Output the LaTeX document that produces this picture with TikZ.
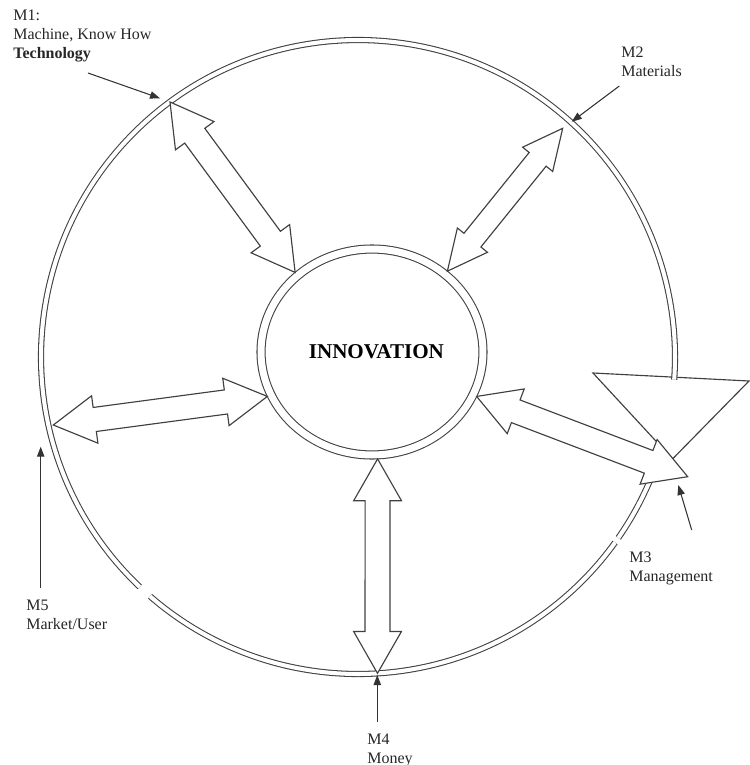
\documentclass[tikz,border=0pt]{standalone}
\usepackage{fontspec}
\setmainfont{Liberation Serif}
\usepackage{tikz}
\tikzset{
     ring/.style={draw=black!75,line width=0.6pt,double,double distance=2.3pt},
     blockarrow/.style={draw=black!75,line width=0.65pt,fill=white,line join=miter},
     pointer/.style={draw=black!80,line width=0.6pt,-{Triangle[length=5.7pt,width=4.2pt]}},
     tag/.style={anchor=north west,inner sep=0pt,align=left,text=black!85,font=\fontsize{9.1}{10.6}\selectfont}
     }
\usetikzlibrary{positioning,arrows.meta,calc}
\usetikzlibrary{shapes.geometric}
% double headed block arrow: tips #1 #2, head length #3, head half width #4, shaft half width #5
\newcommand{\blockarrow}[5]{%
  \coordinate (ha) at ($(#1)!#3!(#2)$);
  \coordinate (hb) at ($(#2)!#3!(#1)$);
  \draw[blockarrow] (#1)
    -- ($(ha)!#4!90:(#2)$) -- ($(ha)!#5!90:(#2)$)
    -- ($(hb)!#5!-90:(#1)$) -- ($(hb)!#4!-90:(#1)$)
    -- (#2)
    -- ($(hb)!#4!90:(#1)$) -- ($(hb)!#5!90:(#1)$)
    -- ($(ha)!#5!-90:(#2)$) -- ($(ha)!#4!-90:(#2)$)
    -- cycle;}

\begin{document}
\begin{tikzpicture}[x=0.02cm,y=-0.02cm]
            \useasboundingbox (0,0) rectangle (750,765);
            % Place coordinates
            \coordinate (ringc) at (358,357);
            \coordinate (techtip) at (170,102);
            \coordinate (mattip) at (562.7,128.3);
            \coordinate (mgmttip) at (687.7,476.7);
            \coordinate (moneytip) at (377.5,673.3);
            \coordinate (markettip) at (53.3,425);
            % Draw outer ring
            \draw[ring] (ringc) ++(35.8:317) arc[start angle=35.8,end angle=131,radius=317];
            \draw[ring] (ringc) ++(10:317) arc[start angle=10,end angle=34.8,radius=317];
            \draw[blockarrow] (593,373) -- (749,381) -- (672.5,459) -- cycle;
            \draw[ring] (ringc) ++(133.5:317) arc[start angle=133.5,end angle=364.1,radius=317];
            % Place nodes
            \node[ellipse,draw=black!75,line width=0.6pt,double,double distance=4pt,minimum width=4.44cm,minimum height=4.12cm,inner sep=0pt,outer sep=2.3pt,font=\fontsize{12}{14}\selectfont\bfseries] (innov) at (372,352) {\hspace*{5pt}INNOVATION};
            % Draw block arrows
            \blockarrow{innov.134}{techtip}{23.8pt}{13.6pt}{7.1pt}
            \blockarrow{innov.47}{mattip}{22.7pt}{11pt}{6.2pt}
            \blockarrow{innov.337}{mgmttip}{23.8pt}{13.6pt}{6.9pt}
            \blockarrow{innov.273}{moneytip}{23.8pt}{13.6pt}{7.1pt}
            \blockarrow{innov.203}{markettip}{23.8pt}{13.6pt}{6.9pt}
            % Place labels
            \node[tag] (tech) at (13,10) {M1:\\Machine, Know How\\\textbf{Technology}};
            \node[tag] (mat) at (621,47) {M2\\Materials};
            \node[tag] (mgmt) at (629,552) {M3\\Management};
            \node[tag] (money) at (367,734) {M4\\Money};
            \node[tag] (market) at (26,600) {M5\\Market/User};
            % Draw pointers
            \coordinate (techfrom) at (88,73);
            \coordinate (techto) at (160,98.3);
            \coordinate (matfrom) at (619.3,86);
            \coordinate (matto) at (571.7,121.7);
            \coordinate (mgmtfrom) at (691.7,530);
            \coordinate (mgmtto) at (678.3,485);
            \coordinate (moneyfrom) at (377.3,721.7);
            \coordinate (moneyto) at (377.3,675);
            \coordinate (marketfrom) at (40.7,588.3);
            \coordinate (marketto) at (40.7,446.7);
            \draw[pointer] (techfrom) -- (techto);
            \draw[pointer] (matfrom) -- (matto);
            \draw[pointer] (mgmtfrom) -- (mgmtto);
            \draw[pointer] (moneyfrom) -- (moneyto);
            \draw[pointer] (marketfrom) -- (marketto);
\end{tikzpicture}
\end{document}
